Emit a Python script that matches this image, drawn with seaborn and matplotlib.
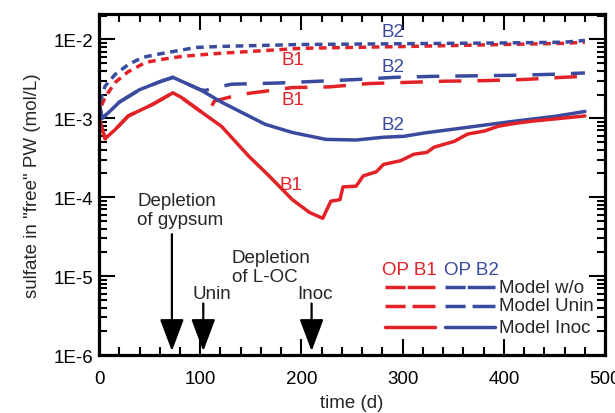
import numpy as np
import pandas as pd
import matplotlib
matplotlib.use("Agg")
import matplotlib.pyplot as plt
from matplotlib.ticker import FixedLocator, MultipleLocator, LogLocator, NullFormatter
import seaborn as sns

RED = "#e32228"
BLUE = "#3a4b9f"

# Model w/o (dotted)
t_wo_b1 = [0, 2, 6, 16, 29, 46, 63, 83, 103, 123, 200, 300, 400, 460, 480]
wo_b1 = [1.0e-3, 1.4e-3, 1.85e-3, 2.85e-3, 3.9e-3, 5.1e-3, 5.6e-3, 6.1e-3, 6.4e-3,
         6.7e-3, 7.7e-3, 8.1e-3, 8.6e-3, 8.9e-3, 9.2e-3]
t_wo_b2 = [0, 2, 6, 16, 29, 43, 56, 73, 96, 123, 200, 300, 400, 460, 480]
wo_b2 = [1.1e-3, 1.8e-3, 2.55e-3, 3.6e-3, 4.8e-3, 5.9e-3, 6.4e-3, 7.0e-3, 7.9e-3,
         8.15e-3, 8.6e-3, 8.8e-3, 9.0e-3, 9.2e-3, 9.7e-3]

# Model Unin (dashed)
t_unin_b1 = [0, 6, 16, 29, 53, 73, 81, 100, 105, 108, 114, 139, 164, 191, 228, 266,
             305, 342, 382, 420, 458, 480]
unin_b1 = [1.0e-3, 5.5e-4, 7.2e-4, 1.07e-3, 1.5e-3, 2.1e-3, 1.85e-3, 1.23e-3, 1.12e-3,
           1.2e-3, 1.65e-3, 2.0e-3, 2.2e-3, 2.45e-3, 2.5e-3, 2.75e-3, 2.85e-3, 2.95e-3,
           3.0e-3, 3.1e-3, 3.3e-3, 3.4e-3]
t_unin_b2 = [0, 3, 10, 20, 40, 60, 73, 100, 105, 115, 131, 178, 218, 255, 292, 332,
             408, 446, 480]
unin_b2 = [1.6e-3, 1.0e-3, 1.2e-3, 1.6e-3, 2.3e-3, 2.9e-3, 3.3e-3, 2.3e-3, 2.25e-3,
           2.45e-3, 2.7e-3, 2.8e-3, 2.95e-3, 3.1e-3, 3.3e-3, 3.4e-3, 3.5e-3, 3.6e-3,
           3.75e-3]

# Model Inoc (solid)
t_inoc_b1 = [0, 6, 16, 29, 53, 73, 81, 100, 121, 148, 168, 191, 208, 221, 229, 238,
             241, 254, 261, 274, 281, 298, 311, 324, 331, 351, 364, 381, 394, 408,
             428, 450, 480]
inoc_b1 = [1.0e-3, 5.5e-4, 7.2e-4, 1.07e-3, 1.5e-3, 2.1e-3, 1.85e-3, 1.23e-3, 7.9e-4,
           3.3e-4, 1.86e-4, 9.3e-5, 6.4e-5, 5.4e-5, 8.9e-5, 9.3e-5, 1.35e-4, 1.38e-4,
           1.86e-4, 2.1e-4, 2.6e-4, 2.9e-4, 3.5e-4, 3.7e-4, 4.3e-4, 5.1e-4, 6.3e-4,
           6.9e-4, 7.9e-4, 8.5e-4, 9.2e-4, 9.8e-4, 1.07e-3]
t_inoc_b2 = [0, 3, 10, 20, 40, 60, 73, 100, 121, 164, 191, 224, 254, 281, 301, 321,
             351, 381, 411, 451, 480]
inoc_b2 = [1.6e-3, 1.0e-3, 1.2e-3, 1.6e-3, 2.3e-3, 2.9e-3, 3.3e-3, 2.3e-3, 1.6e-3,
           8.4e-4, 6.6e-4, 5.4e-4, 5.3e-4, 5.75e-4, 5.9e-4, 6.5e-4, 7.3e-4, 8.2e-4,
           9.2e-4, 1.06e-3, 1.22e-3]

# event markers (time in d)
events = {"gypsum": 72, "Unin": 103, "Inoc": 210}

ytick_vals = [1e-6, 1e-5, 1e-4, 1e-3, 1e-2]
ytick_labels = ["1E-6", "1E-5", "1E-4", "1E-3", "1E-2"]

sns.set_style("ticks")
plt.rcParams["font.family"] = ["Liberation Sans", "DejaVu Sans"]

fig = plt.figure(figsize=(6.15, 4.14), dpi=100)
ax = fig.add_axes([0.161, 0.140, 0.823, 0.824])

DOT = (0, (2.2, 1.6))
DASH = (0, (6.5, 4.6))
LW = 2.5

series = [
    (t_wo_b1, wo_b1, RED, DOT), (t_wo_b2, wo_b2, BLUE, DOT),
    (t_unin_b1, unin_b1, RED, DASH), (t_unin_b2, unin_b2, BLUE, DASH),
    (t_inoc_b2, inoc_b2, BLUE, "-"), (t_inoc_b1, inoc_b1, RED, "-"),
]
for t, v, c, ls in series:
    df = pd.DataFrame({"t": t, "v": v})
    sns.lineplot(data=df, x="t", y="v", ax=ax, color=c, lw=LW, linestyle=ls,
                 estimator=None, sort=False)

fs = 13.5
ax.set_yscale("log")
ax.set_xlim(0, 500)
ax.set_ylim(1e-6, 2.1e-2)
ax.xaxis.set_major_locator(MultipleLocator(100))
ax.xaxis.set_minor_locator(MultipleLocator(20))
ax.yaxis.set_major_locator(FixedLocator(ytick_vals))
ax.set_yticklabels(ytick_labels)
ax.yaxis.set_minor_locator(LogLocator(base=10, subs=np.arange(2, 10)))
ax.yaxis.set_minor_formatter(NullFormatter())

ax.tick_params(which="both", direction="in", top=True, right=True, width=1.5,
               labelsize=fs, colors="black")
ax.tick_params(which="major", length=11.5)
ax.tick_params(which="minor", length=5.5)
ax.tick_params(axis="x", pad=11)
ax.tick_params(axis="y", pad=4)
for s in ax.spines.values():
    s.set_linewidth(2.3)
    s.set_color("black")

ax.set_xlabel("time (d)", fontsize=fs, labelpad=5)
ax.set_ylabel('sulfate in "free" PW (mol/L)', fontsize=fs, labelpad=9)

# curve labels
ax.text(180, 5.6e-3, "B1", color=RED, fontsize=fs, va="center")
ax.text(180, 1.74e-3, "B1", color=RED, fontsize=fs, va="center")
ax.text(178, 1.46e-4, "B1", color=RED, fontsize=fs, va="center")
ax.text(279, 1.25e-2, "B2", color=BLUE, fontsize=fs, va="center")
ax.text(279, 4.5e-3, "B2", color=BLUE, fontsize=fs, va="center")
ax.text(279, 8.3e-4, "B2", color=BLUE, fontsize=fs, va="center")

# annotations with arrows
ax.text(38, 6.9e-5, "Depletion\nof gypsum", fontsize=fs, va="center", ha="left",
        linespacing=1.1)
ax.text(131, 1.3e-5, "Depletion\nof L-OC", fontsize=fs, va="center", ha="left",
        linespacing=1.1)
ax.text(111, 6.1e-6, "Unin", fontsize=fs, va="center", ha="center")
ax.text(213, 6.1e-6, "Inoc", fontsize=fs, va="center", ha="center")

arrow = dict(arrowstyle="-|>,head_length=2.0,head_width=0.75", lw=1.6,
             color="black", shrinkA=0, shrinkB=0)
ax.annotate("", xy=(events["gypsum"], 1.12e-6), xytext=(events["gypsum"], 3.4e-5),
            arrowprops=arrow)
ax.annotate("", xy=(events["Unin"], 1.12e-6), xytext=(events["Unin"], 4.5e-6),
            arrowprops=arrow)
ax.annotate("", xy=(events["Inoc"], 1.12e-6), xytext=(events["Inoc"], 4.5e-6),
            arrowprops=arrow)

# legend block
tr = ax.transAxes
ax.text(0.559, 0.252, "OP B1", color=RED, fontsize=fs, va="center", transform=tr)
ax.text(0.682, 0.252, "OP B2", color=BLUE, fontsize=fs, va="center", transform=tr)
rows = [(0.199, "Model w/o", (0, (5.8, 0.6, 20, 1))),
        (0.144, "Model Unin", (0, (5.8, 2.0, 20, 1))),
        (0.082, "Model Inoc", "-")]
for yy, lab, ls in rows:
    ax.plot([0.565, 0.664], [yy, yy], color=RED, lw=LW, ls=ls, transform=tr)
    ax.plot([0.684, 0.783], [yy, yy], color=BLUE, lw=LW, ls=ls, transform=tr)
    ax.text(0.790, yy, lab, fontsize=fs, va="center", transform=tr)

fig.savefig("out.png", dpi=100)
